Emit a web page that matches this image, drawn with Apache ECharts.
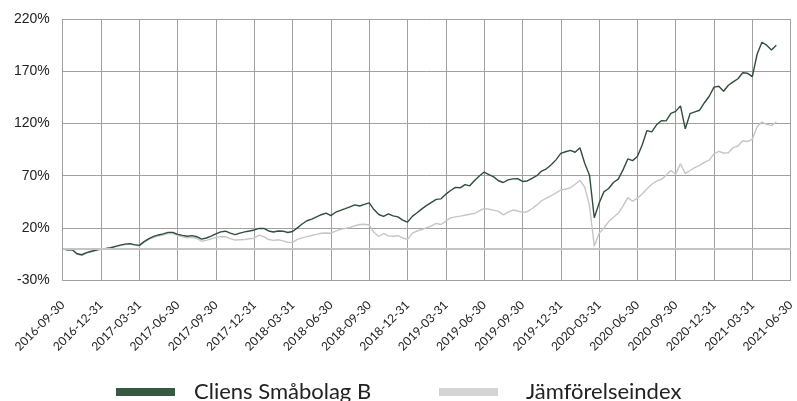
<!DOCTYPE html>
<html>
<head>
<meta charset="utf-8">
<script src="https://cdn.jsdelivr.net/npm/echarts@6/dist/echarts.min.js"></script>
<style>
html,body{margin:0;padding:0;background:#fff;}
#chart{width:797px;height:401px;}
</style>
</head>
<body>
<div id="chart"></div>
<script>
// Quarter-end tick labels
var tickLabels = ['2016-09-30','2016-12-31','2017-03-31','2017-06-30','2017-09-30','2017-12-31',
  '2018-03-31','2018-06-30','2018-09-30','2018-12-31','2019-03-31','2019-06-30','2019-09-30',
  '2019-12-31','2020-03-31','2020-06-30','2020-09-30','2020-12-31','2021-03-31','2021-06-30'];
var pointsPerQuarter = 8;
var seriesNames = ['Cliens Småbolag B', 'Jämförelseindex'];

// Cumulative return (%), sampled 8 times per quarter
var cliens = [
  0, -1.0, -1.0, -4.8, -5.8, -3.8, -2.4, -1.3,
  0, 0.3, 0.9, 2.3, 3.5, 4.4, 4.9, 3.9,
  3.2, 6.8, 9.7, 11.8, 13.2, 14.2, 15.7, 15.7,
  13.8, 12.8, 12.0, 12.6, 11.5, 9.2, 10.3, 12.0,
  14.2, 16.2, 16.8, 15.0, 13.5, 15.0, 16.1, 17.0,
  18.0, 19.5, 19.4, 17.0, 16.0, 17.0, 16.8, 15.6,
  16.5, 20.0, 23.7, 26.8, 28.4, 30.5, 32.6, 34.2,
  31.7, 35.0, 36.7, 38.4, 40.2, 42.0, 41.0, 42.5,
  44.0, 37.5, 32.8, 31.0, 33.5, 31.5, 30.5, 27.5,
  25.5, 31.0, 34.5, 38.2, 41.5, 44.5, 47.3, 47.8,
  52.3, 55.8, 58.8, 58.4, 61.5, 60.3, 65.5, 69.8,
  73.5, 71.0, 68.9, 65.2, 63.5, 66.0, 67.0, 67.2,
  64.5, 65.0, 67.5, 70.0, 74.5, 76.6, 80.5, 85.2,
  91.5, 93.0, 94.3, 92.5, 96.8, 82.0, 70.5, 29.7,
  43.5, 54.5, 57.7, 63.5, 66.7, 75.6, 86.1, 84.5,
  88.5, 99.5, 113.3, 112.0, 118.8, 122.8, 122.6, 129.8,
  131.7, 137.0, 115.0, 129.5, 131.3, 132.8, 140.0, 146.2,
  155.0, 155.8, 151.0, 156.8, 160.0, 163.0, 168.7, 168.2,
  165.1, 186.5, 198.0, 195.2, 190.5, 195.0
];
var jamforelse = [
  0, -1.5, -1.5, -5.3, -6.3, -4.3, -2.9, -1.8,
  -0.5, -0.2, 0.4, 1.8, 3.0, 3.9, 4.4, 3.4,
  2.7, 6.3, 9.0, 11.0, 12.3, 13.2, 14.5, 14.6,
  12.8, 11.5, 10.5, 11.0, 9.8, 7.2, 8.0, 9.5,
  10.9, 11.6, 11.5, 9.7, 8.3, 8.6, 8.9, 9.5,
  10.1, 13.0, 11.5, 8.8, 8.0, 8.6, 7.5, 6.2,
  6.0, 8.9, 10.4, 11.6, 12.7, 13.7, 14.8, 15.1,
  14.9, 16.8, 18.6, 19.5, 20.5, 22.0, 23.2, 23.5,
  22.7, 15.8, 11.7, 14.6, 12.3, 12.0, 12.5, 10.3,
  9.0, 15.0, 17.0, 18.4, 20.2, 21.8, 24.2, 23.2,
  26.5, 29.6, 30.5, 31.2, 32.1, 33.0, 33.9, 36.4,
  38.5, 37.8, 37.0, 35.8, 32.5, 35.0, 37.1, 36.2,
  34.8, 35.5, 38.3, 42.0, 46.0, 48.5, 50.8, 53.5,
  56.3, 57.0, 58.5, 61.8, 65.4, 59.0, 41.5, 2.5,
  14.7, 19.9, 26.0, 30.2, 34.0, 40.8, 49.0, 45.5,
  48.5, 52.5, 57.5, 61.8, 64.8, 66.5, 70.5, 75.0,
  71.5, 81.5, 72.0, 75.0, 77.8, 80.0, 82.7, 85.0,
  91.0, 93.4, 91.8, 92.0, 97.0, 98.5, 103.5, 102.8,
  105.0, 117.0, 121.5, 119.2, 118.0, 121.5
];
var yTicks = { min: -30, max: 220, step: 50 };

// Build category axis: quarter labels with intermediate sample slots
var categories = [];
for (var q = 0; q < tickLabels.length - 1; q++) {
  categories.push(tickLabels[q]);
  for (var k = 1; k < pointsPerQuarter; k++) categories.push(tickLabels[q] + ' +' + k);
}
categories.push(tickLabels[tickLabels.length - 1]);

function isQuarter(idx) { return idx % pointsPerQuarter === 0; }

var gridColor = '#a0a0a0';
var chart = echarts.init(document.getElementById('chart'), null, { renderer: 'canvas' });
chart.setOption({
  animation: false,
  backgroundColor: '#ffffff',
  grid: { left: 62.7, right: 2.8, top: 19.3, bottom: 121, containLabel: false },
  legend: [
    {
      data: [seriesNames[0]], left: 116, top: 381, padding: 0,
      icon: 'rect', itemWidth: 59, itemHeight: 8,
      textStyle: { fontFamily: 'Lato', fontSize: 22, color: '#222', padding: [0, 0, 0, 14] }
    },
    {
      data: [seriesNames[1]], left: 439, top: 381, padding: 0,
      icon: 'rect', itemWidth: 59, itemHeight: 8,
      textStyle: { fontFamily: 'Lato', fontSize: 22, color: '#222', padding: [0, 0, 0, 23] }
    }
  ],
  xAxis: {
    type: 'category',
    data: categories,
    boundaryGap: false,
    axisLine: { show: true, onZero: false, lineStyle: { color: gridColor, width: 1 } },
    axisTick: { show: false },
    axisLabel: {
      interval: function (idx) { return isQuarter(idx); },
      rotate: 45,
      margin: 23,
      fontFamily: 'Lato',
      fontSize: 12,
      color: '#222'
    },
    splitLine: {
      show: true,
      interval: function (idx) { return isQuarter(idx); },
      lineStyle: { color: gridColor, width: 1 }
    }
  },
  yAxis: {
    type: 'value',
    min: yTicks.min,
    max: yTicks.max,
    interval: yTicks.step,
    axisLine: { show: true, lineStyle: { color: gridColor } },
    axisTick: { show: false },
    axisLabel: {
      formatter: '{value}%',
      margin: 13,
      fontFamily: 'Liberation Sans',
      fontSize: 14,
      color: '#222'
    },
    splitLine: { show: true, lineStyle: { color: gridColor, width: 1 } }
  },
  series: [
    {
      name: seriesNames[0],
      type: 'line',
      data: cliens,
      symbol: 'none',
      z: 4,
      itemStyle: { color: '#385a44' },
      lineStyle: { color: '#2f4f3a', width: 1.4 }
    },
    {
      name: seriesNames[1],
      type: 'line',
      data: jamforelse,
      symbol: 'none',
      z: 3,
      itemStyle: { color: '#d4d4d4' },
      lineStyle: { color: '#c6c6c6', width: 1.4 },
      markLine: {
        silent: true,
        symbol: 'none',
        label: { show: false },
        lineStyle: { color: '#c4c4c4', width: 2, type: 'solid' },
        data: [{ yAxis: 0 }]
      }
    }
  ]
});
</script>
</body>
</html>
